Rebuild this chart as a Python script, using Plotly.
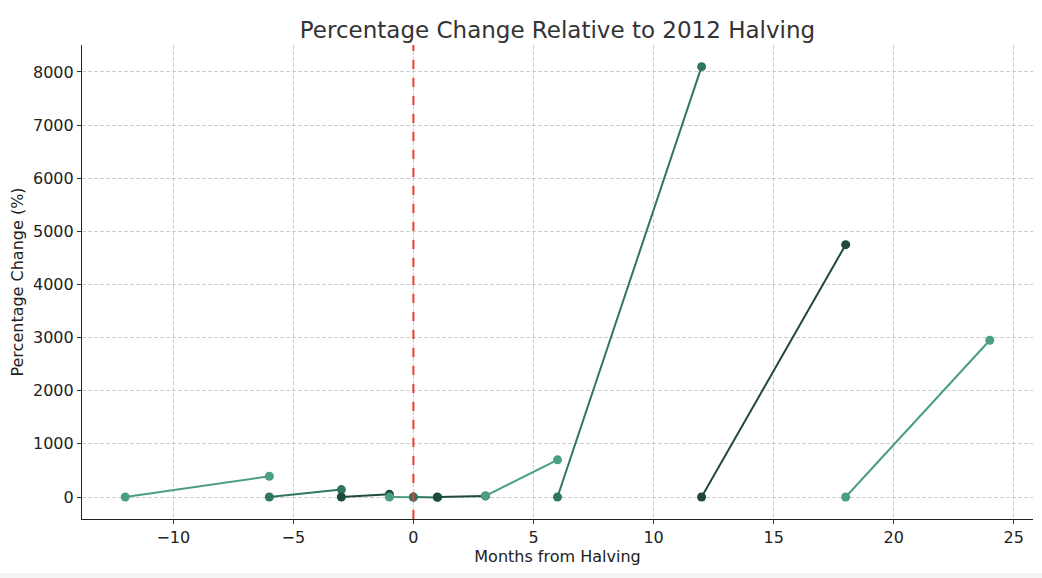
import plotly.graph_objects as go

# Each segment: start month, end month, start value, end value
seg_start = [-12, -6, -3, -1, 0, 1, 3, 6, 12, 18]
seg_end = [-6, -3, -1, 0, 1, 3, 6, 12, 18, 24]
seg_start_val = [0, 0, 0, 0, 0, 0, 20, 0, 0, 0]
seg_end_val = [390, 140, 50, -5, -8, 20, 700, 8100, 4750, 2950]
palette = ["#4a9f80", "#2f7660", "#1e4a3b"]

title = "Percentage Change Relative to 2012 Halving"
x_title = "Months from Halving"
y_title = "Percentage Change (%)"
x_ticks = [-10, -5, 0, 5, 10, 15, 20, 25]
y_ticks = [0, 1000, 2000, 3000, 4000, 5000, 6000, 7000, 8000]

fig = go.Figure()
for i in range(len(seg_start)):
    c = palette[i % 3]
    fig.add_trace(go.Scatter(
        x=[seg_start[i], seg_end[i]],
        y=[seg_start_val[i], seg_end_val[i]],
        mode="lines+markers",
        line=dict(color=c, width=2),
        marker=dict(color=c, size=9),
        showlegend=False,
        hoverinfo="x+y",
    ))

fig.add_vline(x=0, line=dict(color="#ee3b2f", width=2, dash="dash"))

font = "DejaVu Sans, sans-serif"
axis_common = dict(
    showgrid=True, gridcolor="#cccccc", griddash="4px,2px", gridwidth=1,
    showline=True, linecolor="#222", linewidth=1.2, zeroline=False,
    ticks="outside", ticklen=4, tickcolor="#333", tickwidth=1,
    tickfont=dict(family=font, size=16, color="#222"),
)
fig.update_xaxes(range=[-13.8, 25.8], tickvals=x_ticks,
                 ticktext=[str(v).replace("-", "\u2212") for v in x_ticks],
                 title=dict(text=x_title, font=dict(family=font, size=16, color="#222"), standoff=2),
                 **axis_common)
fig.update_yaxes(range=[-414, 8508], tickvals=y_ticks,
                 title=dict(text=y_title, font=dict(family=font, size=16, color="#222"), standoff=5),
                 **axis_common)

fig.update_layout(
    width=1042, height=578,
    margin=dict(l=82, r=9, t=45, b=59),
    paper_bgcolor="white", plot_bgcolor="white",
    title=dict(text=title, x=0.535, xanchor="center", y=0.948, yanchor="middle",
               font=dict(family=font, size=23, color="#333")),
    shapes=[
        dict(type="rect", xref="paper", yref="paper", x0=-0.1, x1=1.02,
             y0=1 + 36 / 474, y1=1 + 46 / 474, fillcolor="#f5f5f5", line=dict(width=0)),
        dict(type="rect", xref="paper", yref="paper", x0=-0.1, x1=1.02,
             y0=-60 / 474, y1=-54 / 474, fillcolor="#f5f5f5", line=dict(width=0)),
    ],
)

fig.write_html("out.html")
